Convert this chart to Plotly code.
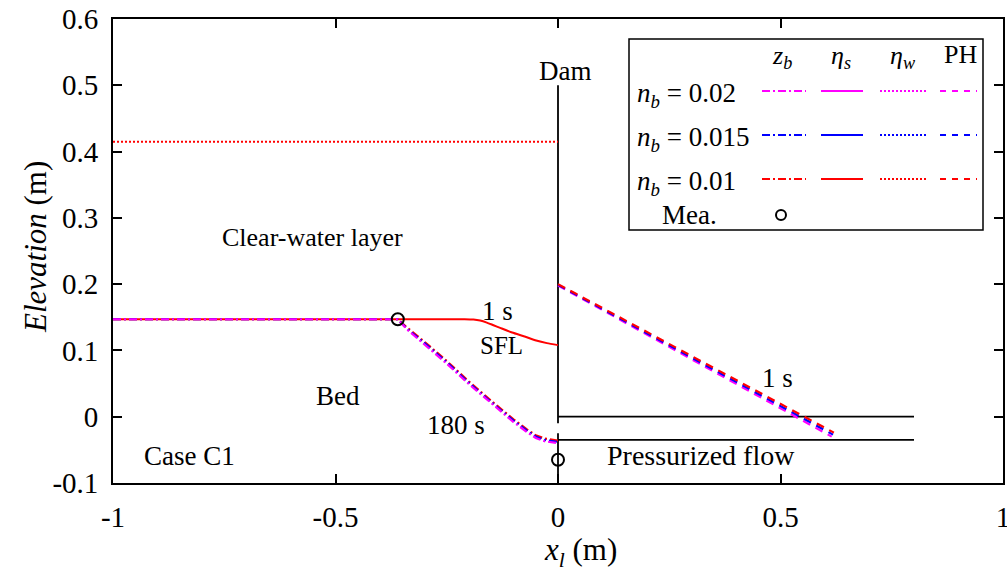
import plotly.graph_objects as go

# ---------------- data ----------------
# bed profile z_b at 180 s for each Manning coefficient
zb_x = [-1.0, -0.36, -0.34, -0.30, -0.25, -0.20, -0.15, -0.10, -0.07, -0.05, -0.03, -0.015, 0.0]
zb_red = [0.147, 0.147, 0.135, 0.113, 0.084, 0.053, 0.024, -0.004, -0.019, -0.028, -0.033, -0.035, -0.036]
zb_blue = [0.147, 0.147, 0.133, 0.111, 0.082, 0.051, 0.022, -0.006, -0.021, -0.030, -0.035, -0.037, -0.038]
zb_mag = [0.147, 0.147, 0.132, 0.109, 0.080, 0.049, 0.020, -0.008, -0.023, -0.032, -0.037, -0.039, -0.040]

# sediment-water interface eta_s at 1 s (n_b = 0.01)
etas_x = [-1.0, -0.36, -0.21, -0.19, -0.175, -0.16, -0.145, -0.13, -0.103, -0.075, -0.049, -0.025, 0.0]
etas_red = [0.147, 0.147, 0.147, 0.1465, 0.145, 0.142, 0.138, 0.134, 0.127, 0.121, 0.115, 0.111, 0.108]

# water surface eta_w (n_b = 0.01)
etaw_x = [-1.0, 0.0]
etaw_red = [0.415, 0.415]

# piezometric head PH at 1 s
ph_x_red = [0.0, 0.62]
ph_red = [0.200, -0.024]
ph_x_blue = [0.0, 0.618]
ph_blue = [0.199, -0.027]
ph_x_mag = [0.0, 0.615]
ph_mag = [0.198, -0.030]

# measurements
mea_x = [-0.36, 0.0]
mea_y = [0.147, -0.065]

# structures: dam and pressurized outlet
dam_x = [0.0, 0.0, None, 0.0, 0.0]
dam_y = [0.5, -0.010, None, -0.025, -0.1]
pipe_x = [0.0, 0.8, None, 0.0, 0.8]
pipe_y = [0.0, 0.0, None, -0.035, -0.035]

x_ticks = [-1, -0.5, 0, 0.5, 1]
x_tick_text = ["-1", "-0.5", "0", "0.5", "1"]
y_ticks = [-0.1, 0, 0.1, 0.2, 0.3, 0.4, 0.5, 0.6]
y_tick_text = ["-0.1", "0", "0.1", "0.2", "0.3", "0.4", "0.5", "0.6"]

RED = "#FF0000"
BLUE = "#0000FF"
MAG = "#FF00FF"
FONT = "Liberation Serif, Times New Roman, Tinos, DejaVu Serif, serif"
DASHDOT = "8px,3px,2px,3px"
DOT = "2px,2px"
DASH = "8px,6px"

fig = go.Figure()

# structures
fig.add_trace(go.Scatter(x=dam_x, y=dam_y, mode="lines", line=dict(color="black", width=1.8)))
fig.add_trace(go.Scatter(x=pipe_x, y=pipe_y, mode="lines", line=dict(color="black", width=1.8)))

# water surface
fig.add_trace(go.Scatter(x=etaw_x, y=etaw_red, mode="lines", line=dict(color=RED, width=2, dash=DOT)))
# eta_s
fig.add_trace(go.Scatter(x=etas_x, y=etas_red, mode="lines", line=dict(color=RED, width=2, shape="spline", smoothing=0.6)))
# beds
for yy, c in [(zb_red, RED), (zb_blue, BLUE), (zb_mag, MAG)]:
    fig.add_trace(go.Scatter(x=zb_x, y=yy, mode="lines", line=dict(color=c, width=2.2, dash=DASHDOT)))
# PH
for xx, yy, c in [(ph_x_mag, ph_mag, MAG), (ph_x_blue, ph_blue, BLUE), (ph_x_red, ph_red, RED)]:
    fig.add_trace(go.Scatter(x=xx, y=yy, mode="lines", line=dict(color=c, width=2.2, dash=DASH)))
# measurements
fig.add_trace(go.Scatter(x=mea_x, y=mea_y, mode="markers",
                         marker=dict(symbol="circle-open", size=12, color="black", line=dict(width=2))))

# --------- layout ----------
L, R, T, B = 113, 4, 19, 101
W, H = 1007, 584
PW, PH_ = W - L - R, H - T - B


def fx(px):
    return (px - L) / PW


def fy(py):
    return (H - B - py) / PH_


annotations = []


def txt(s, x, y, size=27, xanchor="center", ref="data", **kw):
    if ref == "data":
        annotations.append(dict(text=s, x=x, y=y, xref="x", yref="y", showarrow=False,
                                xanchor=xanchor, yanchor="middle",
                                font=dict(family=FONT, size=size, color="black"), **kw))
    else:
        annotations.append(dict(text=s, x=fx(x), y=fy(y), xref="paper", yref="paper", showarrow=False,
                                xanchor=xanchor, yanchor="middle",
                                font=dict(family=FONT, size=size, color="black"), **kw))


# labels in the plot
txt("Clear-water layer", -0.551, 0.271, size=26)
txt("1 s", -0.137, 0.160)
txt("SFL", -0.126, 0.108, size=25)
txt("Bed", -0.494, 0.031)
txt("180 s", -0.229, -0.012)
txt("Case C1", -0.827, -0.059)
txt("Dam", 0.016, 0.522)
txt("1 s", 0.494, 0.059)
txt("Pressurized flow", 0.321, -0.059, size=28)

# axis titles
txt("<i>Elevation</i> (m)", 35, 247, size=31, ref="paper", textangle=-90)
txt("<i>x</i><sub><i>l</i></sub> (m)", 580, 552, size=31, ref="paper")

# legend (custom grid)
shapes = []
shapes.append(dict(type="rect", xref="paper", yref="paper", x0=fx(629), x1=fx(983), y0=fy(230), y1=fy(39),
                   line=dict(color="black", width=1.5), fillcolor="white", layer="above"))
hy = 57
txt("<i>z</i><sub><i>b</i></sub>", 782, hy, size=26, ref="paper")
txt("<i>η</i><sub><i>s</i></sub>", 841, hy, size=26, ref="paper")
txt("<i>η</i><sub><i>w</i></sub>", 902, hy, size=26, ref="paper")
txt("PH", 960, hy - 2, size=26, ref="paper")
rows = [(91, MAG, "0.02"), (135, BLUE, "0.015"), (179, RED, "0.01")]
cols = [(762, 806, DASHDOT), (821, 863, None), (880, 926, DOT), (940, 977, "6px,6px")]
for ry, c, lab in rows:
    txt("<i>n</i><sub><i>b</i></sub> = " + lab, 635, ry + 4, size=27, ref="paper", xanchor="left")
    for x0, x1, d in cols:
        ln = dict(color=c, width=2)
        if d:
            ln["dash"] = d
        shapes.append(dict(type="line", xref="paper", yref="paper", x0=fx(x0), x1=fx(x1),
                           y0=fy(ry), y1=fy(ry), line=ln, layer="above"))
txt("Mea.", 689, 215, size=27, ref="paper")
shapes.append(dict(type="circle", xref="paper", yref="paper", xsizemode="pixel", ysizemode="pixel",
                   xanchor=fx(781), yanchor=fy(215), x0=-5, x1=5, y0=-5, y1=5,
                   line=dict(color="black", width=2), layer="above"))

axis_common = dict(showgrid=False, zeroline=False, showline=True, linecolor="black", linewidth=1.8,
                   ticks="inside", ticklen=9, tickwidth=1.5, tickcolor="black", mirror="ticks",
                   tickfont=dict(family=FONT, size=29, color="black"), ticklabeloverflow="allow")

fig.update_layout(
    width=W, height=H,
    margin=dict(l=L, r=R, t=T, b=B, autoexpand=False),
    paper_bgcolor="white", plot_bgcolor="white",
    showlegend=False,
    xaxis=dict(range=[-1, 1], tickvals=x_ticks, ticktext=x_tick_text, ticklabelstandoff=7, **axis_common),
    yaxis=dict(range=[-0.1, 0.6], tickvals=y_ticks, ticktext=y_tick_text, ticklabelstandoff=7, **axis_common),
    annotations=annotations,
    shapes=shapes,
)

fig.write_html("out.html", config={"displayModeBar": False},
               post_script="document.body.style.margin='0';document.body.style.padding='0';"
                           "document.body.style.overflow='hidden';")
